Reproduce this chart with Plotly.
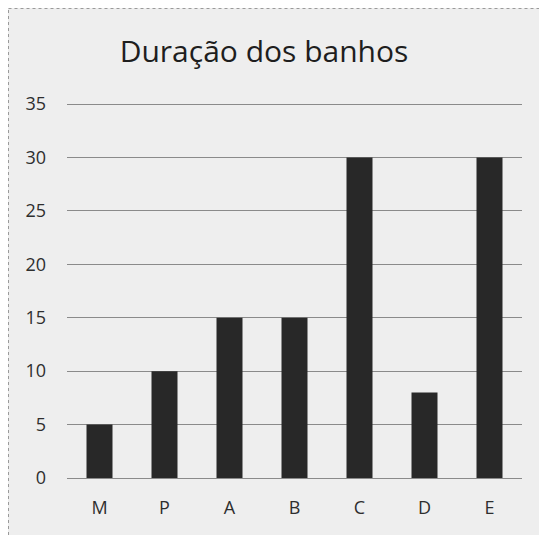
import plotly.graph_objects as go

categories = ["M", "P", "A", "B", "C", "D", "E"]
values = [5, 10, 15, 15, 30, 8, 30]
y_ticks = [0, 5, 10, 15, 20, 25, 30, 35]
title_text = "Duração dos banhos"

fig = go.Figure(go.Bar(x=categories, y=values, marker=dict(color="#282828", line=dict(width=0))))

# the page body has an 8px margin, so the figure is drawn from (8, 8)
W, H = 539, 527
ml, mr, mt, mb = 59, 25, 95, 57
fig.update_layout(
    width=W, height=H,
    margin=dict(l=ml, r=mr, t=mt, b=mb),
    paper_bgcolor="#eeeeee", plot_bgcolor="#eeeeee",
    bargap=0.6,
    showlegend=False,
    title=dict(text=title_text, x=256 / W, xanchor="center", y=1 - 43 / H, yanchor="middle",
               font=dict(family="Open Sans, sans-serif", size=30, color="#1e1e1e")),
    font=dict(family="Open Sans, sans-serif", size=18, color="#2e2e2e"),
)
fig.update_yaxes(range=[0, 35.1], tickvals=y_ticks, showgrid=True, gridcolor="#8a8a8a", gridwidth=1,
                 zeroline=False, showline=False, ticks="", ticklabelstandoff=20,
                 tickfont=dict(size=18))
fig.update_xaxes(showgrid=False, showline=True, linecolor="#8a8a8a", ticks="", ticklabelstandoff=13,
                 tickfont=dict(size=18))

# dotted frame (scan border)
pw, ph = W - ml - mr, H - mt - mb
fig.add_shape(type="line", xref="paper", yref="paper",
              x0=(0.5 - ml) / pw, x1=(0.5 - ml) / pw,
              y0=-mb / ph, y1=1 + (mt - 0.5) / ph,
              line=dict(color="#9a9a9a", width=1, dash="dot"))
fig.add_shape(type="line", xref="paper", yref="paper",
              x0=(0.5 - ml) / pw, x1=1 + mr / pw,
              y0=1 + (mt - 0.5) / ph, y1=1 + (mt - 0.5) / ph,
              line=dict(color="#9a9a9a", width=1, dash="dot"))

fig.write_html("out.html")
